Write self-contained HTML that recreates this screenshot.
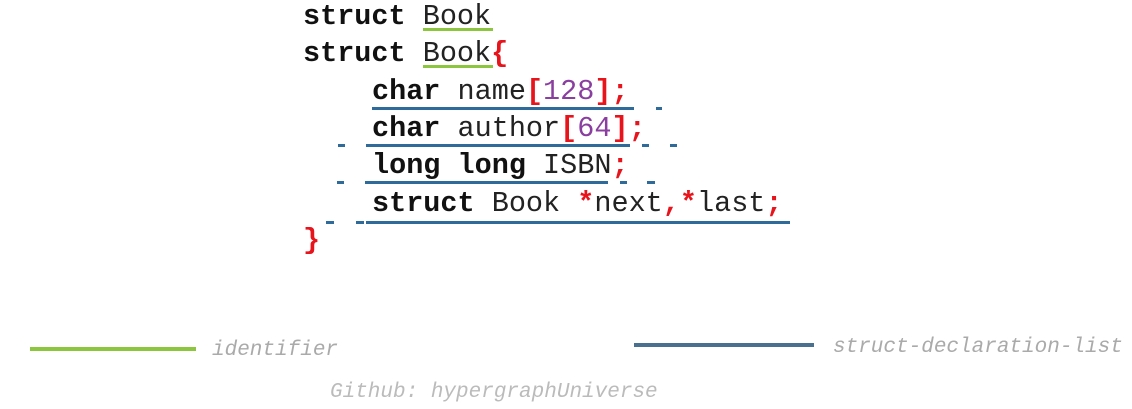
<!DOCTYPE html>
<html><head><style>
body{margin:0;width:1132px;height:409px;background:#fff;position:relative;overflow:hidden;font-family:"Liberation Mono",monospace}
.t{position:absolute;font-size:28.5px;line-height:1;white-space:pre;color:#222}
b{color:#111}
.r{color:#e8141c;font-weight:bold}
.p{color:#8a3fa0}
.l{position:absolute;height:3px;background:#2e6a9a}
.g{position:absolute;height:3px;background:#8cc63f}
.lg{position:absolute;font-style:italic;color:#aaa;font-size:21px;white-space:pre}
</style></head><body>
<div class="t" style="left:303px;top:3px"><b>struct</b> Book</div>
<div class="t" style="left:303px;top:40px"><b>struct</b> Book<span class="r">{</span></div>
<div class="t" style="left:372px;top:78px"><b>char</b> name<span class="r">[</span><span class="p">128</span><span class="r">];</span></div>
<div class="t" style="left:372px;top:115px"><b>char</b> author<span class="r">[</span><span class="p">64</span><span class="r">];</span></div>
<div class="t" style="left:372px;top:152px"><b>long long</b> ISBN<span class="r">;</span></div>
<div class="t" style="left:372px;top:190px"><b>struct</b> Book <span class="r">*</span>next<span class="r">,*</span>last<span class="r">;</span></div>
<div class="t" style="left:303px;top:227px"><span class="r">}</span></div>
<div class="g" style="left:423px;top:28px;width:70px"></div>
<div class="g" style="left:423px;top:65px;width:70px"></div>
<div class="l" style="left:372px;top:107px;width:262px"></div>
<div class="l" style="left:656px;top:107px;width:6px"></div>
<div class="l" style="left:366px;top:144px;width:264px"></div>
<div class="l" style="left:338px;top:144px;width:7px"></div>
<div class="l" style="left:642px;top:144px;width:7px"></div>
<div class="l" style="left:670px;top:144px;width:7px"></div>
<div class="l" style="left:365px;top:181px;width:243px"></div>
<div class="l" style="left:337px;top:181px;width:7px"></div>
<div class="l" style="left:620px;top:181px;width:7px"></div>
<div class="l" style="left:647px;top:181px;width:8px"></div>
<div class="l" style="left:366px;top:221px;width:424px"></div>
<div class="l" style="left:326px;top:221px;width:8px"></div>
<div class="l" style="left:356px;top:221px;width:8px"></div>
<div class="g" style="left:30px;top:347px;width:166px;height:4px"></div>
<div class="lg" style="left:212px;top:339px">identifier</div>
<div class="l" style="left:634px;top:343px;width:180px;height:4px;background:#4a7090"></div>
<div class="lg" style="left:833px;top:336px">struct-declaration-list</div>
<div class="lg" style="left:330px;top:381px;color:#bbb">Github: hypergraphUniverse</div>
</body></html>
